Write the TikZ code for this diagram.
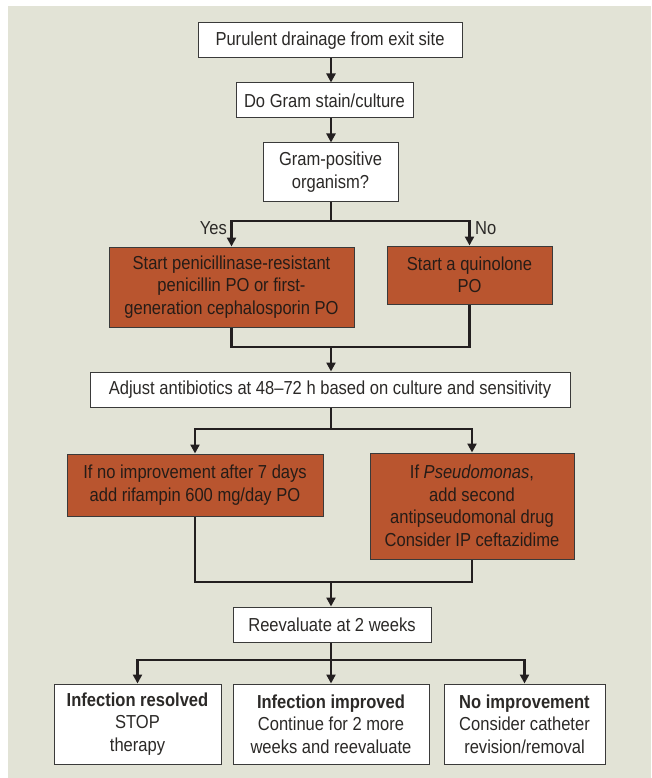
\documentclass[tikz,border=0pt]{standalone}
\usepackage{fontspec}
\setmainfont[FakeStretch=0.88]{Liberation Sans}
\usetikzlibrary{arrows.meta}
\definecolor{bg}{HTML}{E2E3D6}
\definecolor{rust}{HTML}{B9552F}
\definecolor{ink}{HTML}{231F20}
\definecolor{txt}{HTML}{2B2927}
\definecolor{otxt}{HTML}{261C17}
\definecolor{boxedge}{HTML}{3A3A3A}
\begin{document}
\begin{tikzpicture}[x=1pt,y=-1pt,
  wbox/.style={draw=boxedge, line width=1pt, fill=white, text=txt, inner sep=0pt,
    align=center, font=\fontsize{18.8}{22.5}\selectfont},
  obox/.style={wbox, fill=rust, text=otxt},
  lbl/.style={text=txt, inner sep=0pt, font=\fontsize{18.8}{22.5}\selectfont},
  conn/.style={draw=ink, line width=2.6pt},
  arr/.style={conn, -{Triangle[length=9pt,width=9pt]}}]
\useasboundingbox (0,0) rectangle (651,778);
\fill[bg] (8,6) rectangle (651,778);

% nodes
\node[wbox, minimum width=264pt, minimum height=35pt] (n1) at (330,40.5) {Purulent drainage from exit site};
\node[wbox, minimum width=177pt, minimum height=35pt] (n2) at (324.5,100.5) {Do Gram stain/culture};
\node[wbox, minimum width=135pt, minimum height=58pt] (n3) at (330.5,172) {Gram-positive\\organism?};
\node[obox, minimum width=245pt, minimum height=80pt] (o1) at (231.5,287) {Start penicillinase-resistant\\penicillin PO or first-\\generation cephalosporin PO};
\node[obox, minimum width=165pt, minimum height=58pt] (o2) at (469.5,275) {Start a quinolone\\PO};
\node[wbox, minimum width=480pt, minimum height=35pt] (n4) at (330,389.5) {Adjust antibiotics at 48--72 h based on culture and sensitivity};
\node[obox, minimum width=256pt, minimum height=62pt] (o3) at (195,485) {If no improvement after 7 days\\add rifampin 600 mg/day PO};
\node[obox, minimum width=204pt, minimum height=106pt] (o4) at (472,506) {If \textit{Pseudomonas},\\add second\\antipseudomonal drug\\Consider IP ceftazidime};
\node[wbox, minimum width=198pt, minimum height=35pt] (n5) at (332,624.5) {Reevaluate at 2 weeks};
\node[wbox, minimum width=167pt, minimum height=80pt] (b1) at (137.5,724) {\textbf{Infection resolved}\\STOP\\therapy};
\node[wbox, minimum width=196pt, minimum height=80pt] (b2) at (331,724) {\textbf{Infection improved}\\Continue for 2 more\\weeks and reevaluate};
\node[wbox, minimum width=161pt, minimum height=80pt] (b3) at (524.5,724) {\textbf{No improvement}\\Consider catheter\\revision/removal};

\node[lbl, anchor=east] (yes) at (227,228) {Yes};
\node[lbl, anchor=west] (no) at (475,228) {No};

% junctions
\coordinate (cx) at (331,0);
\coordinate (j1) at (331,221);
\coordinate (j2) at (331,347);
\coordinate (j3) at (331,429);
\coordinate (j4) at (331,582);
\coordinate (j5) at (331,660);

% connectors
\draw[arr] (n1.south -| cx) -- (n2.north -| cx);
\draw[arr] (n2.south -| cx) -- (n3.north -| cx);
\draw[conn] (n3.south -| cx) -- (j1);
\draw[arr] (j1) -| (o1.north);
\draw[arr] (j1) -| (o2.north);
\draw[conn] (o1.south) |- (j2) -| (o2.south);
\draw[arr] (j2) -- (n4.north -| j2);
\draw[conn] (n4.south -| j3) -- (j3);
\draw[arr] (j3) -| (o3.north);
\draw[arr] (j3) -| (o4.north);
\draw[conn] (o3.south) |- (j4) -| (o4.south);
\draw[arr] (j4) -- (n5.north -| j4);
\draw[conn] (n5.south -| j5) -- (j5);
\draw[arr] (j5) -| (b1.north);
\draw[arr] (j5) -- (b2.north -| j5);
\draw[arr] (j5) -| (b3.north);
\end{tikzpicture}
\end{document}
